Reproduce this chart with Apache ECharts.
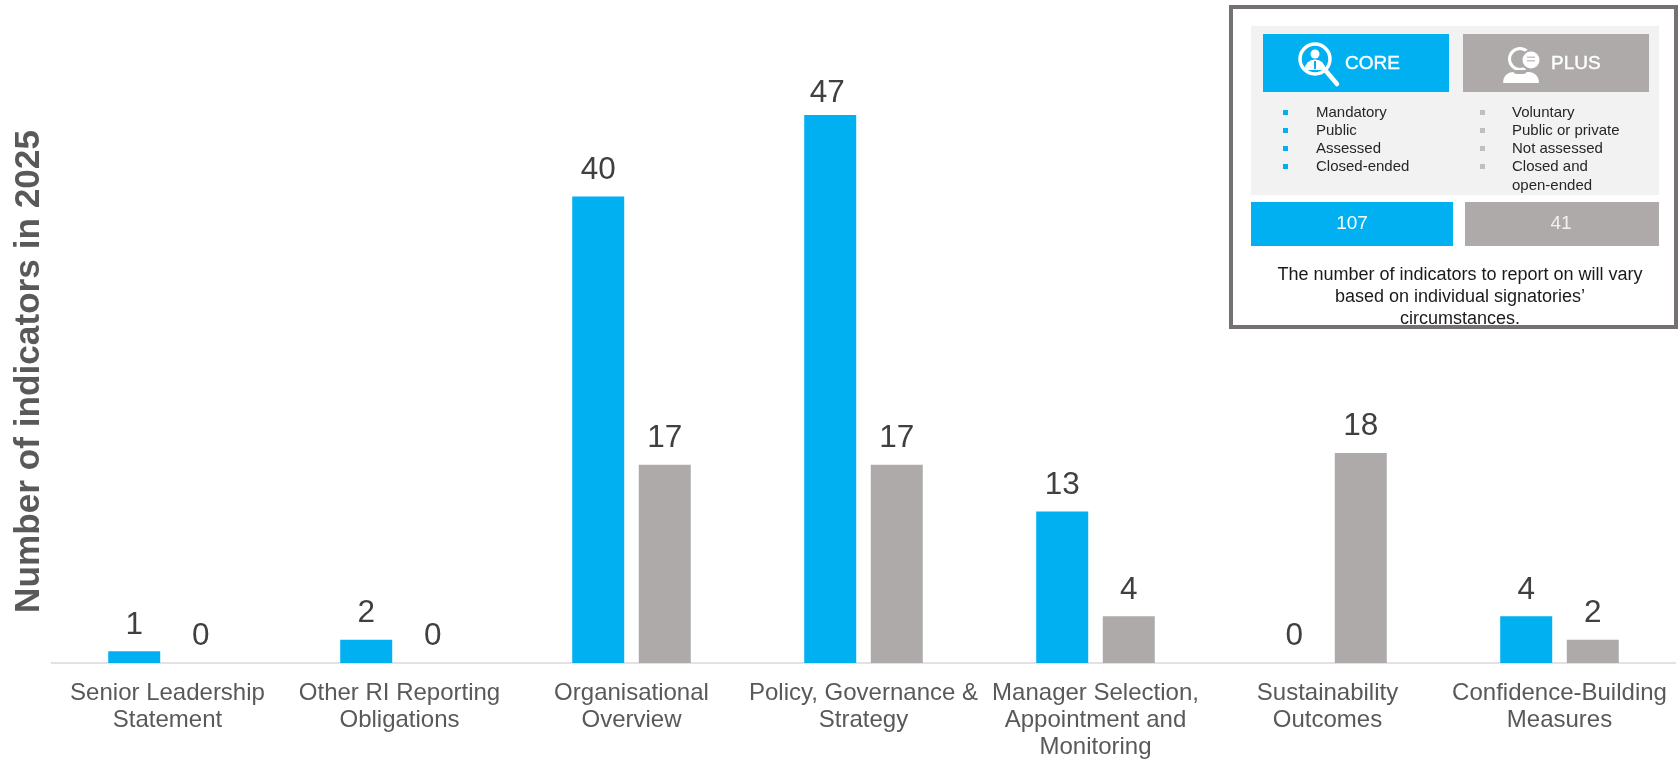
<!DOCTYPE html>
<html><head><meta charset="utf-8">
<style>html,body{margin:0;padding:0;background:#fff}#c{width:1680px;height:765px}</style>
<script src="https://cdn.jsdelivr.net/npm/echarts@6/dist/echarts.min.js"></script>
</head><body><div id="c"></div>
<script>
const categories = ['Senior Leadership\nStatement','Other RI Reporting\nObligations','Organisational\nOverview','Policy, Governance &\nStrategy','Manager Selection,\nAppointment and\nMonitoring','Sustainability\nOutcomes','Confidence-Building\nMeasures'];
const coreValues = [1,2,40,47,13,0,4];
const plusValues = [0,0,17,17,4,18,2];
const yTitle = 'Number of indicators in 2025';
const coreList = ['Mandatory','Public','Assessed','Closed-ended'];
const plusList = ['Voluntary','Public or private','Not assessed','Closed and','open-ended'];
const coreTotal = '107', plusTotal = '41';
const noteLines = ['The number of indicators to report on will vary','based on individual signatories’','circumstances.'];
const BLUE='#00B0F0', GREY='#AEAAAA', FONT='"Liberation Sans", Arial, sans-serif';

const rect=(x,y,w,h,fill,z=10,r=0)=>({type:'rect',z,silent:true,shape:{x,y,width:w,height:h,r},style:{fill}});
const text=(x,y,t,size,fill,align='left',extra={})=>({type:'text',z:12,silent:true,x,y,style:Object.assign({text:t,fill,font:`${size}px ${FONT}`,textAlign:align,textVerticalAlign:'middle'},extra)});
const circle=(cx,cy,r,style,z=12)=>({type:'circle',z,silent:true,shape:{cx,cy,r},style});
const heavy={stroke:'#fff',lineWidth:0.4};
const gfx=[
  rect(1251,26,408,169,'#F2F2F2'),
  rect(1263,34,186,58,BLUE,11),
  rect(1463,34,186,58,GREY,11),
  rect(1251,202,202,44,BLUE,11),
  rect(1465,202,194,44,GREY,11),
  text(1345,64,'CORE',19,'#fff','left',heavy),
  text(1551,64,'PLUS',19,'#fff','left',heavy),
  text(1352,224,coreTotal,19,'#fff','center'),
  text(1561,224,plusTotal,19,'#F2F2F2','center'),
  // magnifier icon
  circle(1315,59,15,{fill:'none',stroke:'#fff',lineWidth:3.5}),
  {type:'line',z:12,silent:true,shape:{x1:1326,y1:71,x2:1337,y2:84},style:{stroke:'#fff',lineWidth:4.5,lineCap:'round'}},
  circle(1315,54,4.5,{fill:'#fff'}),
  {type:'sector',z:12,silent:true,shape:{cx:1315,cy:70,r:10.5,r0:0,startAngle:Math.PI,endAngle:2*Math.PI},style:{fill:'#fff'}},
  rect(1314,61,2,8,BLUE,13),
  // person with speech bubble icon
  circle(1520,59,10.5,{fill:'none',stroke:'#fff',lineWidth:3}),
  rect(1503,72,36,11,'#fff',12,[10,10,1,1]),
  rect(1513,70,14,4,GREY,13,[0,0,6,6]),
  circle(1531,60,10.5,{fill:GREY},13),
  circle(1531,60,8.5,{fill:'#fff'},14),
  rect(1527,56.5,8,1.5,'#C8C5C5',15),
  rect(1527,60,8,1.5,'#C8C5C5',15),
];
const rowY=[113,131,149,167,186];
coreList.forEach((t,i)=>{gfx.push(rect(1283,rowY[i]-3,5,5,BLUE,11));gfx.push(text(1316,rowY[i],t,15,'#262626'));});
plusList.forEach((t,i)=>{if(i<4)gfx.push(rect(1480,rowY[i]-3,5,5,'#BFBFBF',11));gfx.push(text(1512,rowY[i],t,15,'#262626'));});
const noteY=[275,297,319];
noteLines.forEach((t,i)=>gfx.push(text(1460,noteY[i],t,18,'#1a1a1a','center')));
gfx.push({type:'rect',z:20,silent:true,shape:{x:1231,y:7,width:445,height:320},style:{fill:'none',stroke:'#767171',lineWidth:4}});

const label={show:true,position:'top',distance:10.5,color:'#404040',fontSize:31.5,fontFamily:FONT};
const coreData=coreValues.map(v=>v===47?{value:v,label:{distance:6,offset:[-3,0]}}:v);
const chart=echarts.init(document.getElementById('c'),null,{renderer:'canvas'});
chart.setOption({
  animation:false,
  grid:{left:51.5,right:4.5,top:80,bottom:102,containLabel:false},
  xAxis:{type:'category',data:categories,
    axisLine:{lineStyle:{color:'#D9D9D9',width:1.5}},axisTick:{show:false},
    axisLabel:{color:'#595959',fontSize:24,lineHeight:27,fontFamily:FONT,margin:17,interval:0}},
  yAxis:{type:'value',min:0,max:50,show:true,name:yTitle,nameLocation:'middle',nameGap:5,
    nameTextStyle:{color:'#595959',fontSize:35.2,fontWeight:'bold',fontFamily:FONT},
    axisLine:{show:false},axisTick:{show:false},axisLabel:{show:false},splitLine:{show:false}},
  series:[
    {name:'CORE',type:'bar',data:coreData,barWidth:52,barGap:'28%',itemStyle:{color:BLUE},label},
    {name:'PLUS',type:'bar',data:plusValues,barWidth:52,itemStyle:{color:GREY},label}
  ],
  graphic:{elements:gfx}
});
</script></body></html>
